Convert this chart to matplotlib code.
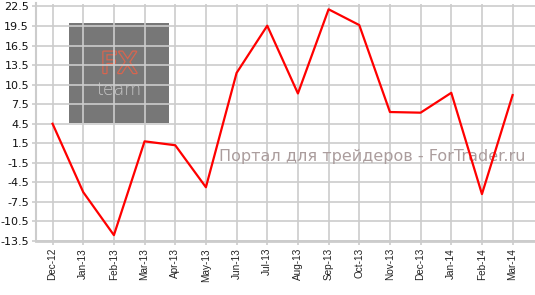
import matplotlib
matplotlib.use('Agg')
import matplotlib.pyplot as plt
from matplotlib.patches import Rectangle
import matplotlib.patheffects as pe

# monthly values
months = ['Dec-12', 'Jan-13', 'Feb-13', 'Mar-13', 'Apr-13', 'May-13', 'Jun-13', 'Jul-13',
          'Aug-13', 'Sep-13', 'Oct-13', 'Nov-13', 'Dec-13', 'Jan-14', 'Feb-14', 'Mar-14']
values = [4.5, -6.0, -12.6, 1.8, 1.2, -5.25, 12.3, 19.55,
          9.15, 22.07, 19.65, 6.3, 6.2, 9.25, -6.3, 8.9]
yticks = [22.5, 19.5, 16.5, 13.5, 10.5, 7.5, 4.5, 1.5, -1.5, -4.5, -7.5, -10.5, -13.5]

fig = plt.figure(figsize=(5.35, 2.95), dpi=100)
ax = fig.add_axes([36/535, 54/295, 1 - 36/535, 237.5/295])

x = list(range(len(months)))
ax.plot(x, values, color='#ff0000', lw=1.6, zorder=3)

ax.set_xlim(-0.54, 15.73)
ax.set_ylim(-13.5, 22.96)
ax.set_yticks(yticks)
ax.set_yticklabels([f'{v:.1f}' for v in yticks], fontsize=8, color='#111111')
ax.set_xticks(x)
ax.set_xticklabels(months, rotation=90, fontsize=7.2, family='Liberation Sans', color='#222222')

ax.set_axisbelow(True)
ax.grid(True, color='#cccccc', lw=1.2)
for s in ['top', 'right']:
    ax.spines[s].set_visible(False)
ax.spines['left'].set_color('#cccccc')
ax.spines['left'].set_linewidth(1.5)
ax.spines['bottom'].set_color('#cccccc')
ax.spines['bottom'].set_linewidth(2)
ax.tick_params(axis='both', color='#cccccc', length=3, width=1.2, pad=2)

# logo watermark (sits under the grid)
tf = fig.transFigure
ax.add_patch(Rectangle((69/535, 1 - 122.5/295), 100/535, 99.5/295, transform=tf,
                       facecolor='#777777', edgecolor='none', zorder=0.2))
ax.text(119/535, 1 - 73/295, 'FX', transform=tf, ha='center', va='baseline', fontsize=21,
        color='#777777', path_effects=[pe.withStroke(linewidth=1.8, foreground='#d8654f')],
        zorder=0.3)
ax.text(119/535, 1 - 95/295, 'team', transform=tf, ha='center', va='baseline', fontsize=12.5,
        color='#c8c8c8', fontweight='light', zorder=0.3)

ax.text(219/535, 1 - 157/295, 'Портал для трейдеров - ForTrader.ru', transform=tf,
        ha='left', va='center', fontsize=11.5, color='#ab9d9d', zorder=2)

fig.savefig('out.png', dpi=100)
